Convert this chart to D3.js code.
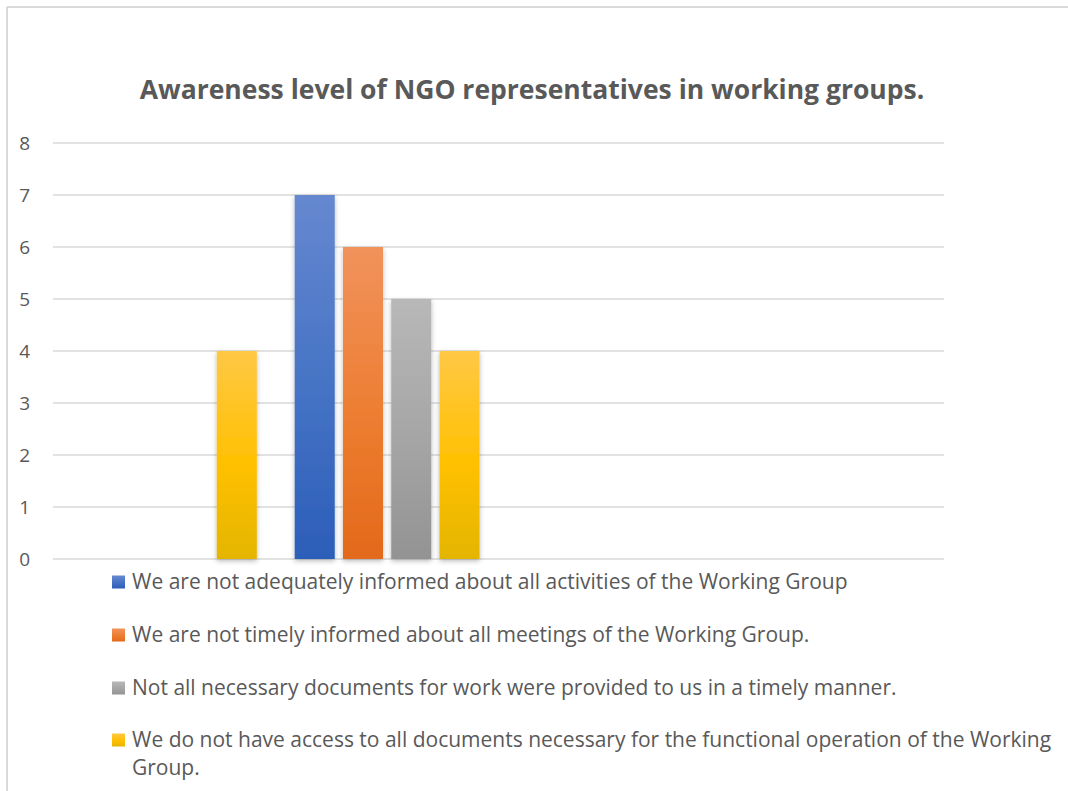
<!DOCTYPE html>
<html>
<head>
<meta charset="utf-8">
<script src="https://cdn.jsdelivr.net/npm/d3@7"></script>
<style>
  html, body { margin: 0; padding: 0; background: #fff; }
  svg { display: block; }
  text { font-family: "Open Sans", "Noto Sans", sans-serif; fill: #595959; }
</style>
</head>
<body>
<svg id="chart" width="1068" height="791"></svg>
<script>
// Chart data
const title = "Awareness level of NGO representatives in working groups.";
const groups = ["1", "2", "3", "4"];
const seriesNames = [
  "We are not adequately informed about all activities of the Working Group",
  "We are not timely informed about all meetings of the Working Group.",
  "Not all necessary documents for work were provided to us in a timely manner.",
  "We do not have access to all documents necessary for the functional operation of the Working Group."
];
const notAdequatelyInformed = [0, 7, 0, 0];
const notTimelyInformed = [0, 6, 0, 0];
const documentsNotTimely = [0, 5, 0, 0];
const noAccessToDocuments = [4, 4, 0, 0];
const yTicks = [0, 1, 2, 3, 4, 5, 6, 7, 8];

const seriesValues = [notAdequatelyInformed, notTimelyInformed, documentsNotTimely, noAccessToDocuments];
// gradient stops per series: top, middle, bottom
const seriesColors = [
  ["#6688d0", "#4472c4", "#2c5eb9"],
  ["#f1925c", "#ed7d31", "#e3691a"],
  ["#b8b8b8", "#a5a5a5", "#939393"],
  ["#ffc845", "#ffc000", "#e4b500"]
];

const svg = d3.select("#chart");
const defs = svg.append("defs");

seriesColors.forEach((c, i) => {
  const g = defs.append("linearGradient")
    .attr("id", "grad" + i).attr("x1", 0).attr("y1", 0).attr("x2", 0).attr("y2", 1);
  g.append("stop").attr("offset", "0%").attr("stop-color", c[0]);
  g.append("stop").attr("offset", "55%").attr("stop-color", c[1]);
  g.append("stop").attr("offset", "100%").attr("stop-color", c[2]);
});

const shadow = defs.append("filter").attr("id", "barShadow")
  .attr("x", "-30%").attr("y", "-10%").attr("width", "160%").attr("height", "120%");
shadow.append("feDropShadow")
  .attr("dx", 0).attr("dy", 2).attr("stdDeviation", 2.5)
  .attr("flood-color", "#000").attr("flood-opacity", 0.28);

// chart frame
svg.append("line").attr("x1", 7).attr("x2", 1068).attr("y1", 7).attr("y2", 7)
  .attr("stroke", "#d9d9d9").attr("stroke-width", 2);
svg.append("line").attr("x1", 7).attr("x2", 7).attr("y1", 7).attr("y2", 791)
  .attr("stroke", "#d9d9d9").attr("stroke-width", 2);

// title
svg.append("text")
  .attr("x", 532).attr("y", 99)
  .attr("text-anchor", "middle")
  .style("font-size", "26.5px").style("font-weight", "bold")
  .text(title);

// scales
const plot = { left: 53, right: 944, top: 143, bottom: 559 };
const x0 = d3.scaleBand().domain(groups)
  .range([plot.left, plot.right]).paddingInner(0.17).paddingOuter(0.085);
const x1 = d3.scaleBand().domain(d3.range(seriesValues.length))
  .range([0, x0.bandwidth()]).paddingInner(0.17);
const y = d3.scaleLinear().domain([0, 8]).range([plot.bottom, plot.top]);

// gridlines
svg.append("g").selectAll("line").data(yTicks).join("line")
  .attr("x1", plot.left).attr("x2", plot.right)
  .attr("y1", d => y(d)).attr("y2", d => y(d))
  .attr("stroke", "#d9d9d9").attr("stroke-width", 1.4);

// y axis labels
const yAxis = d3.axisLeft(y).tickValues(yTicks).tickSize(0).tickPadding(0);
const ya = svg.append("g").attr("transform", "translate(30,0)").call(yAxis);
ya.select(".domain").remove();
ya.selectAll("text")
  .attr("text-anchor", "end")
  .style("font-family", "'Open Sans', sans-serif")
  .style("font-size", "19px").style("fill", "#595959");

// bars
const barLayer = svg.append("g").attr("filter", "url(#barShadow)");
seriesValues.forEach((vals, si) => {
  barLayer.append("g").selectAll("rect")
    .data(vals.map((v, gi) => ({ g: groups[gi], v })).filter(d => d.v > 0))
    .join("rect")
    .attr("x", d => x0(d.g) + x1(si))
    .attr("width", x1.bandwidth())
    .attr("y", d => y(d.v))
    .attr("height", d => y(0) - y(d.v))
    .attr("fill", `url(#grad${si})`);
});

// legend
const legendX = 112, legendTextX = 132;
const legendRowY = [582, 635, 688, 740];
const wrapWidth = 925;
seriesNames.forEach((name, i) => {
  const g = svg.append("g");
  g.append("rect")
    .attr("x", legendX).attr("y", legendRowY[i] - 6.5)
    .attr("width", 13).attr("height", 13)
    .attr("fill", `url(#grad${i})`);
  const t = g.append("text")
    .attr("x", legendTextX).attr("y", legendRowY[i] + 7)
    .style("font-size", "21px");
  // simple word wrap
  const words = name.split(" ");
  let line = [];
  let tspan = t.append("tspan").attr("x", legendTextX);
  words.forEach(w => {
    line.push(w);
    tspan.text(line.join(" "));
    if (tspan.node().getComputedTextLength() > wrapWidth && line.length > 1) {
      line.pop();
      tspan.text(line.join(" "));
      line = [w];
      tspan = t.append("tspan").attr("x", legendTextX).attr("dy", 28).text(w);
    }
  });
});
</script>
</body>
</html>
